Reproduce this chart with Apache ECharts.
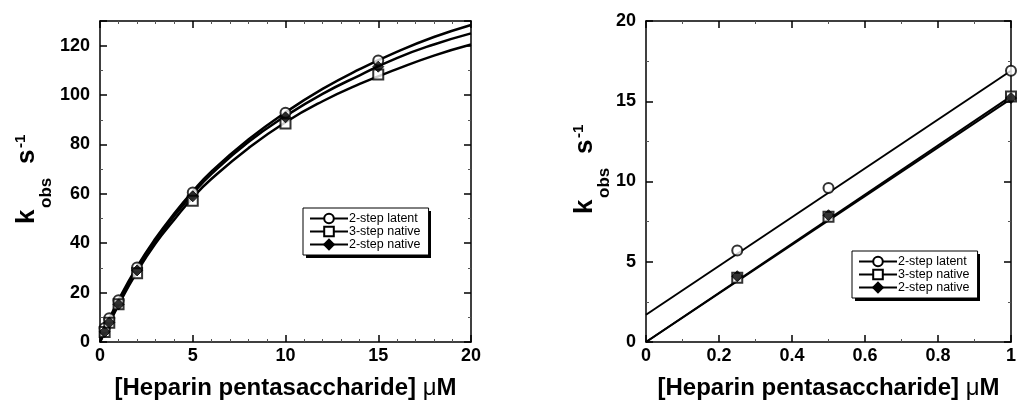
<!DOCTYPE html>
<html>
<head>
<meta charset="utf-8">
<script src="https://cdn.jsdelivr.net/npm/echarts@6/dist/echarts.min.js"></script>
<style>
  html, body { margin: 0; padding: 0; background: #fff; }
  #main { width: 1019px; height: 405px; }
</style>
</head>
<body>
<div id="main"></div>
<script>
// measured points, left panel (0-20 uM)
const leftConc = [0.25, 0.5, 1, 2, 5, 10, 15];
const leftLatent = [5.7, 9.6, 16.9, 30.2, 60.5, 92.8, 114];
const leftNative3 = [4.0, 7.8, 15.3, 27.8, 57.2, 88.5, 108.3];
const leftNative2 = [4.1, 7.9, 15.2, 29, 59, 91, 111.5];

// fitted curves
const curveConc = [0, 1, 2, 3, 4, 5, 6, 8, 10, 12, 14, 16, 18, 20];
const curveLatent = [1.7, 17, 30.5, 42, 52, 61, 69, 82, 93, 102.5, 110.5, 117.5, 123.5, 128.4];
const curveNative2 = [0, 15.5, 29.5, 41, 51, 60, 68, 81, 91.5, 100.5, 108, 115, 120.5, 125];
const curveNative3 = [0, 15, 28.5, 40, 49.5, 58.5, 66, 78.5, 89, 97.5, 104.5, 110.5, 116, 120.5];

// right panel (0-1 uM)
const rightConc = [0.25, 0.5, 1];
const rightLatent = [5.7, 9.6, 16.9];
const rightNative3 = [4.0, 7.8, 15.3];
const rightNative2 = [4.1, 7.9, 15.2];
const lineConc = [0, 1];
const lineLatent = [1.7, 16.9];
const lineNative3 = [0, 15.3];
const lineNative2 = [0, 15.15];

const names = ['2-step latent', '3-step native', '2-step native'];
const symbols = ['emptyCircle', 'emptyRect', 'diamond'];

const zip = (xs, ys) => xs.map((x, i) => [x, ys[i]]);

const FONT = '"Liberation Sans", Arial, Helvetica, sans-serif';

const chart = echarts.init(document.getElementById('main'));

function frameAxes(gridIndex, xMax, xInt, yMax, yInt, showTopLabel) {
  const tickLen = 7;
  const base = {
    gridIndex: gridIndex,
    type: 'value',
    axisLine: { show: true, onZero: false, lineStyle: { color: '#000', width: 1.5 } },
    axisTick: { show: true, inside: true, length: tickLen, lineStyle: { color: '#000', width: 1.5 } },
    minorTick: { show: true, splitNumber: 0, length: 3, lineStyle: { color: '#555', width: 1 } },
    splitLine: { show: false },
    axisLabel: { show: true, color: '#000', fontFamily: FONT, fontWeight: 'bold', fontSize: 18 }
  };
  const xs = [
    Object.assign({}, base, {
      position: 'bottom', min: 0, max: xMax, interval: xInt,
      minorTick: Object.assign({}, base.minorTick, { splitNumber: gridIndex === 0 ? 5 : 2 }),
      axisLabel: Object.assign({}, base.axisLabel, { margin: 5 }),
      name: '[Heparin pentasaccharide] {mu|μ}M',
      nameLocation: 'middle',
      nameGap: 34,
      nameTextStyle: {
        color: '#000', fontFamily: FONT, fontWeight: 'bold', fontSize: 24,
        rich: { mu: { fontFamily: FONT, fontWeight: 'normal', fontSize: 24, color: '#000' } }
      }
    }),
    Object.assign({}, base, {
      position: 'top', min: 0, max: xMax, interval: xInt,
      minorTick: Object.assign({}, base.minorTick, { splitNumber: gridIndex === 0 ? 5 : 2 }),
      axisLabel: { show: false }
    })
  ];
  const ys = [
    Object.assign({}, base, {
      position: 'left', min: 0, max: yMax, interval: yInt,
      minorTick: Object.assign({}, base.minorTick, { splitNumber: 2 }),
      axisLabel: Object.assign({}, base.axisLabel, { margin: 10, showMaxLabel: showTopLabel })
    }),
    Object.assign({}, base, {
      position: 'right', min: 0, max: yMax, interval: yInt,
      minorTick: Object.assign({}, base.minorTick, { splitNumber: 2 }),
      axisLabel: { show: false }
    })
  ];
  return { xs: xs, ys: ys };
}

const leftAxes = frameAxes(0, 20, 5, 130, 20, false);
const rightAxes = frameAxes(1, 1, 0.2, 20, 5, true);

function curveSeries(name, sym, data, xi, yi, width) {
  return {
    name: name, type: 'line', xAxisIndex: xi, yAxisIndex: yi,
    data: data, smooth: true, showSymbol: false, symbol: sym, symbolSize: 10,
    lineStyle: { color: '#000', width: width },
    itemStyle: { color: '#000', borderColor: '#000', borderWidth: 1 },
    silent: true, animation: false, z: 2
  };
}

function pointSeries(sym, data, xi, yi) {
  return {
    type: 'scatter', xAxisIndex: xi, yAxisIndex: yi,
    data: data, symbol: sym, symbolSize: sym === 'diamond' ? 11 : 10,
    itemStyle: { color: '#000', borderColor: '#000', borderWidth: 1 },
    silent: true, animation: false, z: 3
  };
}

const leftCurves = [curveLatent, curveNative3, curveNative2];
const leftPts = [leftLatent, leftNative3, leftNative2];
const rightLines = [lineLatent, lineNative3, lineNative2];
const rightPts = [rightLatent, rightNative3, rightNative2];

const series = [];
names.forEach((n, i) => {
  series.push(curveSeries(n, symbols[i], zip(curveConc, leftCurves[i]), 0, 0, 2.5));
  series.push(pointSeries(symbols[i], zip(leftConc, leftPts[i]), 0, 0));
  series.push(curveSeries(n, symbols[i], zip(lineConc, rightLines[i]), 2, 2, 2));
  series.push(pointSeries(symbols[i], zip(rightConc, rightPts[i]), 2, 2));
});

function legendAt(left, top) {
  return {
    data: names, left: left, top: top, orient: 'vertical',
    itemWidth: 38, itemHeight: 12, itemGap: 0,
    padding: [4, 8, 4, 6],
    backgroundColor: '#fff', borderColor: '#000', borderWidth: 1,
    selectedMode: false, z: 50,
    textStyle: { color: '#000', fontFamily: FONT, fontSize: 12.5, padding: [0, 0, 0, -4] }
  };
}

// black drop shadow behind each legend box
function legendShadow(left, top) {
  return {
    type: 'rect', z: 20, silent: true,
    shape: { x: left + 3, y: top + 3, width: 125, height: 47 },
    style: { fill: '#000' }
  };
}

// y axis title: k_obs s^-1, built from pieces, rotated
function yTitle(x0, y0) {
  const bold = (t, size, lx, ly) => ({
    type: 'text', x: lx, y: ly,
    style: { text: t, fill: '#000', font: 'bold ' + size + 'px ' + FONT, verticalAlign: 'bottom' }
  });
  return {
    type: 'group', x: x0, y: y0, rotation: Math.PI / 2,
    children: [
      bold('k', 26, 0, 0),
      bold('obs', 17, 16, 15),
      bold('s', 26, 60, 0),
      bold('-1', 15, 76, -12)
    ]
  };
}

chart.setOption({
  backgroundColor: '#fff',
  animation: false,
  grid: [
    { left: 100, top: 21, width: 371, height: 325 },
    { left: 646, top: 21, width: 370, height: 323 }
  ],
  xAxis: leftAxes.xs.concat(rightAxes.xs),
  yAxis: leftAxes.ys.concat(rightAxes.ys),
  legend: [legendAt(303, 208), legendAt(852, 251)],
  graphic: [yTitle(40, 224), yTitle(598, 214), legendShadow(303, 208), legendShadow(852, 251)],
  series: series
});
</script>
</body>
</html>
